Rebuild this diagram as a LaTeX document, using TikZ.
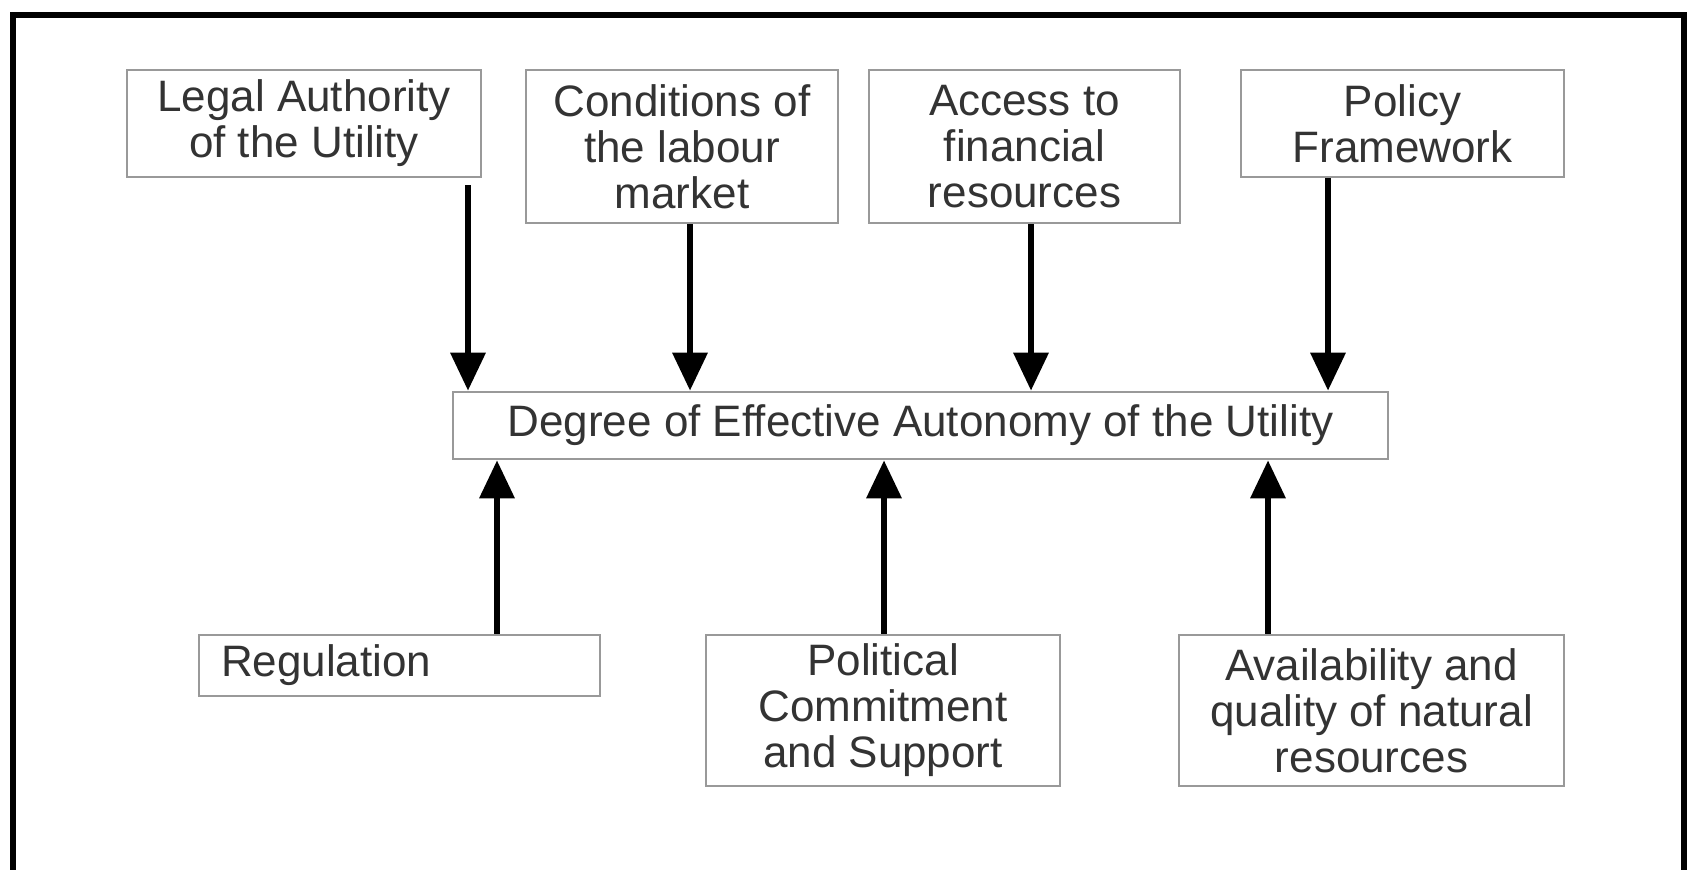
\documentclass[tikz,border=0pt]{standalone}
\usepackage{fontspec}
\setmainfont{Liberation Sans}
\usetikzlibrary{arrows.meta,calc}

\begin{document}
\begin{tikzpicture}[x=0.5pt,y=-0.5pt,>={Triangle[length=19pt,width=17pt]},
  box/.style={draw=gray!80,line width=1.3pt,fill=white,text=black!80,align=center,
    inner sep=0pt,font=\fontsize{22}{23}\selectfont},
  arr/.style={->,line width=3.2pt,black}]
  \clip (0,0) rectangle (1700,870);
  \draw[line width=3.3pt] (13,15) rectangle (1684,920);
  % top row
  \node[box,minimum width=177pt,minimum height=53.5pt] (L) at (304,123.5) {Legal Authority\\of the Utility};
  \node[box,minimum width=156pt,minimum height=76.5pt] (M) at (682,146.5) {Conditions of\\the labour\\market};
  \node[box,minimum width=155.5pt,minimum height=76.5pt] (F) at (1024.5,146.5) {Access to\\financial\\resources};
  \node[box,minimum width=161.5pt,minimum height=53.5pt] (P) at (1402.5,123.5) {Policy\\Framework};
  % centre
  \node[box,minimum width=467.5pt,minimum height=33.5pt] (C) at (920.5,425.5) {Degree of Effective Autonomy of the Utility};
  % bottom row
  \node[box,align=left,text width=178.5pt,inner xsep=11pt,minimum height=30.5pt] (R) at (399.5,665.5) {Regulation};
  \node[box,minimum width=177pt,minimum height=75.5pt] (S) at (883,710.5) {Political\\Commitment\\and Support};
  \node[box,minimum width=192.5pt,minimum height=75.5pt] (N) at (1371.5,710.5) {Availability and\\quality of natural\\resources};
  % arrows
  \draw[arr] ($(L.south)+(164,7)$) coordinate (l) -- (l |- C.north);
  \draw[arr] ($(M.south)+(8,0)$) coordinate (m) -- (m |- C.north);
  \draw[arr] ($(F.south)+(6.5,0)$) coordinate (f) -- (f |- C.north);
  \draw[arr] ($(P.south)+(-74.5,0)$) coordinate (p) -- (p |- C.north);
  \draw[arr] ($(R.north)+(97.5,0)$) coordinate (r) -- (r |- C.south);
  \draw[arr] ($(S.north)+(1,0)$) coordinate (s) -- (s |- C.south);
  \draw[arr] ($(N.north)+(-103.5,0)$) coordinate (n) -- (n |- C.south);
\end{tikzpicture}
\end{document}
